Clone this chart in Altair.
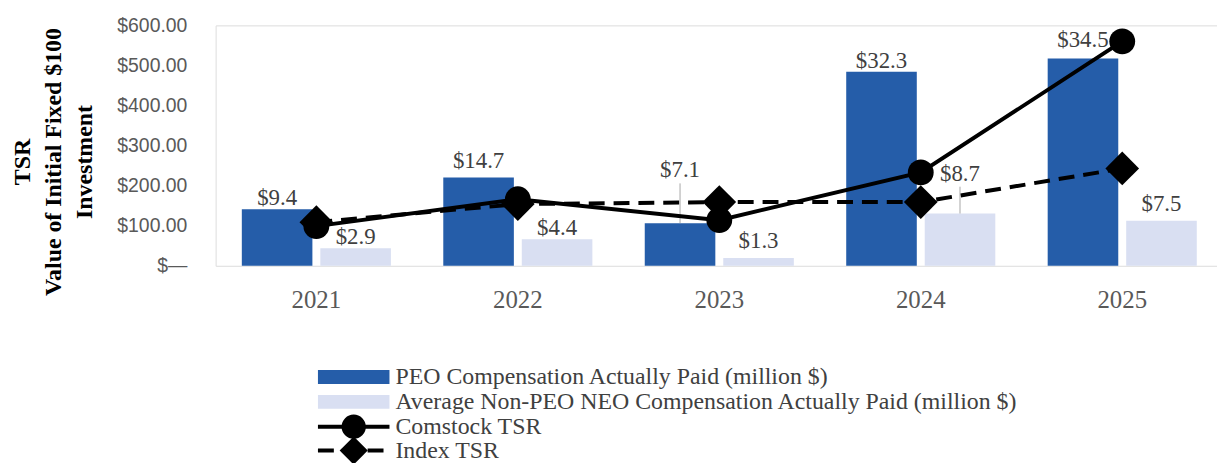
import altair as alt
import pandas as pd

# ---------------- data ----------------
years = ["2021", "2022", "2023", "2024", "2025"]
peo_cap = [9.4, 14.7, 7.1, 32.3, 34.5]          # million $
neo_cap = [2.9, 4.4, 1.3, 8.7, 7.5]             # million $
comstock_tsr = [99, 166, 114, 233, 560]
index_tsr = [109, 154, 159, 159, 243]
y_ticks = [0, 100, 200, 300, 400, 500, 600]
series_keys = ["PEO", "NEO"]
series_names = [
    "PEO Compensation Actually Paid (million $)",
    "Average Non-PEO NEO Compensation Actually Paid (million $)",
    "Comstock TSR",
    "Index TSR",
]
y_title = ["TSR", "Value of Initial Fixed $100", "Investment"]

# ---------------- style ----------------
W, H = 1008, 242
COMP_MAX = 40
PX_PER_COMP = H / COMP_MAX
BLUE = "#255DA9"
LIGHT = "#D9DFF2"
SERIF = "Liberation Serif"
TXT = "#404040"
# extra lift (px) of some bar labels, as in the reference layout
label_lift = {("PEO", "2022"): 6, ("PEO", "2023"): 42, ("NEO", "2023"): 6,
              ("NEO", "2024"): 29, ("PEO", "2025"): 8, ("NEO", "2025"): 6}
leader_min = 20
BASE_GAP = 4

rows = []
for i, yr in enumerate(years):
    for key, vals in (("PEO", peo_cap), ("NEO", neo_cap)):
        v = vals[i]
        lift = label_lift.get((key, yr), 0)
        rows.append({"year": yr, "series": key, "value": v,
                     "label": f"${v:.1f}",
                     "ly": v + (BASE_GAP + lift) / PX_PER_COMP,
                     "lift": lift,
                     "top": v + (lift - 2) / PX_PER_COMP})
bars_df = pd.DataFrame(rows)
tsr_df = pd.DataFrame({"year": years, "comstock": comstock_tsr, "index": index_tsr})

x_scale = alt.Scale(domain=years, range=[0, 1014], paddingInner=0.26, paddingOuter=0.13)
x_axis = alt.Axis(title=None, labelFont=SERIF, labelFontSize=25, labelColor="#595959",
                  labelPadding=22, domain=False, ticks=False, grid=False, labelAngle=0)
X = alt.X("year:N", scale=x_scale, axis=x_axis, sort=years)
xoff = alt.XOffset("series:N", scale=alt.Scale(domain=series_keys, paddingInner=0.101))
y_comp = alt.Scale(domain=[0, COMP_MAX], nice=False, zero=True)
y_tsr = alt.Scale(domain=[0, 600], nice=False)

base = alt.Chart(bars_df)
bars = base.mark_bar().encode(
    x=X, xOffset=xoff,
    y=alt.Y("value:Q", scale=y_comp, axis=None),
    color=alt.Color("series:N", scale=alt.Scale(domain=series_keys, range=[BLUE, LIGHT]), legend=None),
)
leaders = base.transform_filter(alt.datum.lift >= leader_min).mark_rule(
    color="#A6A6A6", strokeWidth=1).encode(
    x=X, xOffset=xoff,
    y=alt.Y("value:Q", scale=y_comp, axis=None),
    y2="top:Q",
)
labels = base.mark_text(font=SERIF, fontSize=23, color=TXT, baseline="alphabetic").encode(
    x=X, xOffset=xoff,
    y=alt.Y("ly:Q", scale=y_comp, axis=None),
    text="label:N",
)

y_axis = alt.Axis(
    values=y_ticks, title=y_title,
    labelExpr="datum.value == 0 ? '$\u2014' : '$' + format(datum.value, ',.2f')",
    labelFont="Liberation Sans", labelFontSize=19.5,
    labelColor="#595959", labelPadding=29, domain=False, ticks=False,
    gridColor="#D9D9D9", gridWidth=1.5,
    titleFont=SERIF, titleFontWeight="bold", titleFontSize=24, titleColor="black",
    titleLineHeight=31, titleAngle=270, titleAlign="center", titleBaseline="middle",
    titleX=-194, titleY=137,
)
tsr = alt.Chart(tsr_df)
com_line = tsr.mark_line(color="black", strokeWidth=4).encode(
    x=X, y=alt.Y("comstock:Q", scale=y_tsr, axis=y_axis))
idx_line = tsr.mark_line(color="black", strokeWidth=4, strokeDash=[16, 9]).encode(
    x=X, y=alt.Y("index:Q", scale=y_tsr, axis=None))
com_pts = tsr.mark_point(shape="circle", filled=True, color="black", size=676, opacity=1).encode(
    x=X, y=alt.Y("comstock:Q", scale=y_tsr, axis=None))
idx_pts = tsr.mark_point(shape="diamond", filled=True, color="black", size=1150, opacity=1).encode(
    x=X, y=alt.Y("index:Q", scale=y_tsr, axis=None))

# ---------------- legend (drawn manually below the plot) ----------------
leg_df = pd.DataFrame({"name": series_names})
row_y = [354, 379, 404, 428]
SYM_X0, SYM_X1, SYM_XC, TXT_X = 103, 175, 139, 181

def leg_row(i):
    return alt.Chart(leg_df).transform_filter(alt.datum.name == series_names[i])

leg_layers = []
for i, col in enumerate([BLUE, LIGHT]):
    leg_layers.append(leg_row(i).mark_rect(color=col).encode(
        x=alt.value(SYM_X0), x2=alt.value(SYM_X1),
        y=alt.value(row_y[i] - 7), y2=alt.value(row_y[i] + 7)))
leg_layers.append(leg_row(2).mark_rule(color="black", strokeWidth=4).encode(
    x=alt.value(SYM_X0), x2=alt.value(SYM_X1), y=alt.value(row_y[2])))
leg_layers.append(leg_row(2).mark_point(shape="circle", filled=True, color="black", size=600, opacity=1).encode(
    x=alt.value(SYM_XC), y=alt.value(row_y[2])))
leg_layers.append(leg_row(3).mark_rule(color="black", strokeWidth=4, strokeDash=[16, 9]).encode(
    x=alt.value(SYM_X0), x2=alt.value(SYM_X1), y=alt.value(row_y[3])))
leg_layers.append(leg_row(3).mark_point(shape="diamond", filled=True, color="black", size=800, opacity=1).encode(
    x=alt.value(SYM_XC), y=alt.value(row_y[3])))
for i in range(4):
    leg_layers.append(leg_row(i).mark_text(font=SERIF, fontSize=24, color=TXT, align="left", baseline="middle").encode(
        x=alt.value(TXT_X), y=alt.value(row_y[i]), text="name:N"))

chart = alt.layer(
    bars, leaders, labels, com_line, idx_line, com_pts, idx_pts, *leg_layers
).resolve_scale(y="independent").properties(
    width=W, height=H,
    padding={"left": 209, "top": 16, "right": 0, "bottom": 197},
    autosize=alt.AutoSizeParams(type="none"),
).configure_view(stroke=None).configure(background="white")

chart.save("out.html", embed_options={"renderer": "svg", "actions": False})
